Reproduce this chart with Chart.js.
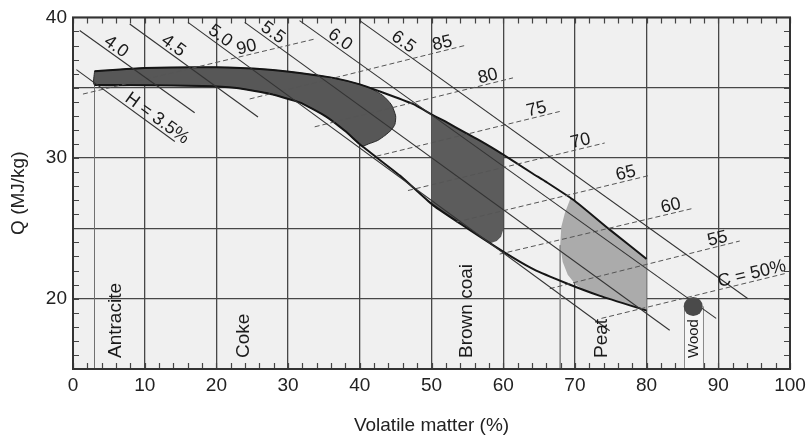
<!DOCTYPE html>
<html><head><meta charset="utf-8">
<script src="https://cdn.jsdelivr.net/npm/chart.js@4/dist/chart.umd.min.js"></script>
<style>html,body{margin:0;padding:0;background:#fff}#wrap{width:812px;height:440px}</style>
</head><body><div id="wrap"><canvas id="c" width="812" height="440"></canvas></div>
<script>
// ---------- data ----------
const xTickValues = [0,10,20,30,40,50,60,70,80,90,100];
const yTickValues = [20,30,40];

// upper and lower boundary curves (Volatile matter %, Q MJ/kg)
const upperX = [3,10,20,27,31.6,36.3,40,43,47.4,50.2,52.1,54.9,56.7,59.5,64.1,66,70,74.85,80];
const upperY = [36.17,36.4,36.45,36.3,36.05,35.7,35.24,34.7,33.85,33.05,32.55,31.75,31.25,30.4,28.9,28.3,26.95,24.91,22.82];
const lowerX = [3,10,18,22.5,27,31.6,35.3,38,40.3,45.6,50.2,55,60,64.2,68.8,73.5,80];
const lowerY = [35.2,35.18,35.12,35.0,34.62,33.96,32.95,31.9,30.85,28.75,26.65,25.0,23.35,22.1,21.1,20.2,19.15];

// Antracite / coal band
const bandX = [3,10,20,27,31.6,36.3,40,41.5,43.2,44.4,45,44.9,44.4,43.5,42.5,41.2,40.3,38,35.3,31.6,27,22.5,18,10,3,3];
const bandY = [36.17,36.4,36.45,36.3,36.05,35.7,35.24,34.95,34.45,33.8,33.0,32.4,32.0,31.6,31.25,31.0,30.85,31.9,32.95,33.96,34.62,35.0,35.12,35.18,35.2,36.17];
// Brown coal region
const brownX = [50,52.1,54.9,56.7,59.5,60,60,59.7,59.1,58.2,55,52.5,50,50];
const brownY = [33.05,32.55,31.75,31.25,30.4,30.15,24.9,24.4,24.1,23.95,25.0,25.85,26.65,33.05];
// Peat region
const peatX = [69.4,70,72.4,74.85,77.4,80,80,76.5,73.5,71.5,70.1,69.0,68.3,67.95,68.1,68.6,69.4];
const peatY = [27.15,26.95,25.95,24.91,23.86,22.82,19.15,19.72,20.2,20.55,21.0,21.7,22.6,23.8,25.1,26.1,27.15];
// Wood
const woodX = [86.5];
const woodY = [19.45];

// iso-hydrogen lines (solid)
const hLabels = ['H = 3.5%','4.0','4.5','5.0','5.5','6.0','6.5'];
const hStartX = [0.47,0.93,7.91,16.04,23.95,31.6,39.99];
const hStartY = [36.29,39.07,39.53,39.65,39.65,39.77,39.77];
const hEndX = [14.2,16.97,25.8,74.85,83.22,89.7,94.14];
const hEndY = [31.18,33.22,32.92,17.72,17.76,18.6,19.99];

// iso-carbon lines (dashed)
const cLabels = ['C = 50%','55','60','65','70','75','80','85','90'];
const cStartX = [73.7,66.49,59.51,53.47,46.72,42.32,33.71,24.64,1.39];
const cStartY = [18.6,20.71,23.17,25.45,27.69,30.13,32.22,34.2,34.55];
const cEndX = [99.26,92.99,86.47,80.2,74.16,67.88,61.37,54.87,33.95];
const cEndY = [21.78,24.1,26.42,28.74,31.07,33.31,35.7,38.03,38.49];

// fuel categories
const categories = ['Antracite','Coke','Brown coai','Peat','Wood'];
const categoryX = [5.95,23.8,54.95,73.7,86.55];

// ---------- label placement (pixels along/perpendicular to lines) ----------
const hLabelAlong = [94,39,48,34,29,44,48];
const cLabelBack = [32,21,21,21,23,22,24,23,70];

const FONT = "'Liberation Sans', Arial, Helvetica, sans-serif";
Chart.defaults.font.family = FONT;

const pts = (xs, ys) => xs.map((x, i) => ({x, y: ys[i]}));
const datasets = [];
const base = {showLine: true, pointRadius: 0, pointHoverRadius: 0, tension: 0};

datasets.push(Object.assign({}, base, {data: pts(bandX, bandY), fill: 'shape', backgroundColor: '#575757', borderColor: '#2a2a2a', borderWidth: 1, tension: 0.2, order: 40}));
datasets.push(Object.assign({}, base, {data: pts(brownX, brownY), fill: 'shape', backgroundColor: '#5c5c5c', borderColor: 'rgba(0,0,0,0)', borderWidth: 0, order: 40}));
datasets.push(Object.assign({}, base, {data: pts(peatX, peatY), fill: 'shape', backgroundColor: '#ababab', borderColor: 'rgba(0,0,0,0)', borderWidth: 0, order: 40}));

// leader lines under category labels
const peatMinIdx = peatX.indexOf(Math.min(...peatX));
datasets.push(Object.assign({}, base, {data: [{x: bandX[0], y: bandY[bandY.length - 2]}, {x: bandX[0], y: 15}], borderColor: '#707070', borderWidth: 1, fill: false, order: 35}));
datasets.push(Object.assign({}, base, {data: [{x: peatX[peatMinIdx], y: peatY[peatMinIdx]}, {x: peatX[peatMinIdx], y: 15}], borderColor: '#8a8a8a', borderWidth: 1, fill: false, order: 35}));

// boundary curves
datasets.push(Object.assign({}, base, {data: pts(upperX, upperY), borderColor: '#151515', borderWidth: 2, tension: 0.15, fill: false, order: 20}));
datasets.push(Object.assign({}, base, {data: pts(lowerX, lowerY), borderColor: '#151515', borderWidth: 2, tension: 0.15, fill: false, order: 20}));

// iso lines
hLabels.forEach((l, i) => datasets.push(Object.assign({}, base, {data: [{x: hStartX[i], y: hStartY[i]}, {x: hEndX[i], y: hEndY[i]}], borderColor: '#333', borderWidth: 1.1, fill: false, order: 10})));
cLabels.forEach((l, i) => datasets.push(Object.assign({}, base, {data: [{x: cStartX[i], y: cStartY[i]}, {x: cEndX[i], y: cEndY[i]}], borderColor: '#555', borderWidth: 1, borderDash: [5, 3], fill: false, order: 10})));

// wood dot
datasets.push({data: pts(woodX, woodY), showLine: false, pointRadius: 9.5, pointHoverRadius: 9.5, pointBackgroundColor: '#4a4a4a', pointBorderWidth: 0, order: 1});

function drawLineLabel(ctx, text, p0, p1, fromEnd, dist, perp, size) {
  const dx = p1.x - p0.x, dy = p1.y - p0.y;
  const L = Math.hypot(dx, dy);
  const ux = dx / L, uy = dy / L;
  const nx = uy, ny = -ux;
  let cx, cy;
  if (fromEnd) { cx = p1.x - ux * dist; cy = p1.y - uy * dist; }
  else { cx = p0.x + ux * dist; cy = p0.y + uy * dist; }
  cx += nx * perp; cy += ny * perp;
  ctx.save();
  ctx.translate(cx, cy);
  ctx.rotate(Math.atan2(dy, dx));
  ctx.font = size + 'px ' + FONT;
  ctx.fillStyle = '#1a1a1a';
  ctx.textAlign = 'center';
  ctx.textBaseline = 'middle';
  ctx.fillText(text, 0, 0);
  ctx.restore();
}

const decor = {
  id: 'decor',
  beforeDraw(chart) {
    const {ctx, chartArea: a} = chart;
    ctx.save();
    ctx.fillStyle = '#f0f0f0';
    ctx.fillRect(a.left, a.top, a.right - a.left, a.bottom - a.top);
    ctx.restore();
  },
  beforeDatasetsDraw(chart) {
    const {ctx, chartArea: a, scales: {x, y}} = chart;
    ctx.save();
    ctx.strokeStyle = '#444';
    ctx.lineWidth = 1.2;
    ctx.beginPath();
    for (let v = 0; v <= 100; v += 2) {
      const px = Math.round(x.getPixelForValue(v)) + 0.5;
      ctx.moveTo(px, a.bottom); ctx.lineTo(px, a.bottom - 6);
      ctx.moveTo(px, a.top); ctx.lineTo(px, a.top + 6);
    }
    for (let v = 15; v <= 40; v += 1) {
      const py = Math.round(y.getPixelForValue(v)) + 0.5;
      ctx.moveTo(a.left, py); ctx.lineTo(a.left + 6, py);
      ctx.moveTo(a.right, py); ctx.lineTo(a.right - 6, py);
    }
    ctx.stroke();
    // wood label box
    const wx = x.getPixelForValue(woodX[0]), wy = y.getPixelForValue(woodY[0]);
    ctx.fillStyle = '#f6f6f6';
    ctx.fillRect(wx - 9.5, wy, 19, a.bottom - wy);
    ctx.strokeStyle = '#8a8a8a';
    ctx.lineWidth = 1;
    ctx.beginPath();
    ctx.moveTo(Math.round(wx - 9.5) + 0.5, wy); ctx.lineTo(Math.round(wx - 9.5) + 0.5, a.bottom);
    ctx.moveTo(Math.round(wx + 9.5) + 0.5, wy); ctx.lineTo(Math.round(wx + 9.5) + 0.5, a.bottom);
    ctx.stroke();
    ctx.restore();
  },
  afterDatasetsDraw(chart) {
    const {ctx, chartArea: a, scales: {x, y}} = chart;
    const P = (vx, vy) => ({x: x.getPixelForValue(vx), y: y.getPixelForValue(vy)});
    // frame
    ctx.save();
    ctx.strokeStyle = '#333';
    ctx.lineWidth = 2;
    ctx.strokeRect(a.left, a.top, a.right - a.left, a.bottom - a.top);
    ctx.restore();
    // line labels
    hLabels.forEach((t, i) => drawLineLabel(ctx, t, P(hStartX[i], hStartY[i]), P(hEndX[i], hEndY[i]), false, hLabelAlong[i], 8, 18));
    cLabels.forEach((t, i) => drawLineLabel(ctx, t, P(cStartX[i], cStartY[i]), P(cEndX[i], cEndY[i]), true, cLabelBack[i], 7.5, 18));
    // category labels
    categories.forEach((t, i) => {
      ctx.save();
      ctx.translate(x.getPixelForValue(categoryX[i]), a.bottom - 11);
      ctx.rotate(-Math.PI / 2);
      ctx.font = (t === 'Wood' ? 15 : 19) + 'px ' + FONT;
      ctx.fillStyle = '#1a1a1a';
      ctx.textAlign = 'left';
      ctx.textBaseline = 'middle';
      ctx.fillText(t, 0, 0);
      ctx.restore();
    });
  }
};

new Chart(document.getElementById('c'), {
  type: 'scatter',
  data: {datasets},
  options: {
    responsive: false,
    animation: false,
    devicePixelRatio: 1,
    events: [],
    layout: {padding: {left: 0, right: 22, top: 10, bottom: 0}},
    plugins: {legend: {display: false}, tooltip: {enabled: false}},
    scales: {
      x: {
        type: 'linear', min: 0, max: 100, position: 'bottom',
        ticks: {stepSize: 10, autoSkip: false, maxRotation: 0, color: '#222', font: {size: 19}, padding: 5,
          callback: v => xTickValues.includes(v) ? String(v) : ''},
        grid: {color: '#474747', lineWidth: 1.3, drawTicks: false},
        border: {display: false},
        title: {display: true, text: 'Volatile matter (%)', color: '#222', font: {size: 19}, padding: {top: 0, bottom: 3}},
        afterFit(s) { s.height = 71; }
      },
      y: {
        type: 'linear', min: 15, max: 40, position: 'left',
        ticks: {stepSize: 5, autoSkip: false, color: '#222', font: {size: 19}, padding: 6,
          callback: v => yTickValues.includes(v) ? String(v) : ''},
        grid: {color: '#474747', lineWidth: 1.3, drawTicks: false},
        border: {display: false},
        title: {display: true, text: 'Q (MJ/kg)', color: '#222', font: {size: 19}, padding: {top: 7, bottom: 0}},
        afterFit(s) { s.width = 73; }
      }
    }
  },
  plugins: [decor]
});
</script>
</body></html>
